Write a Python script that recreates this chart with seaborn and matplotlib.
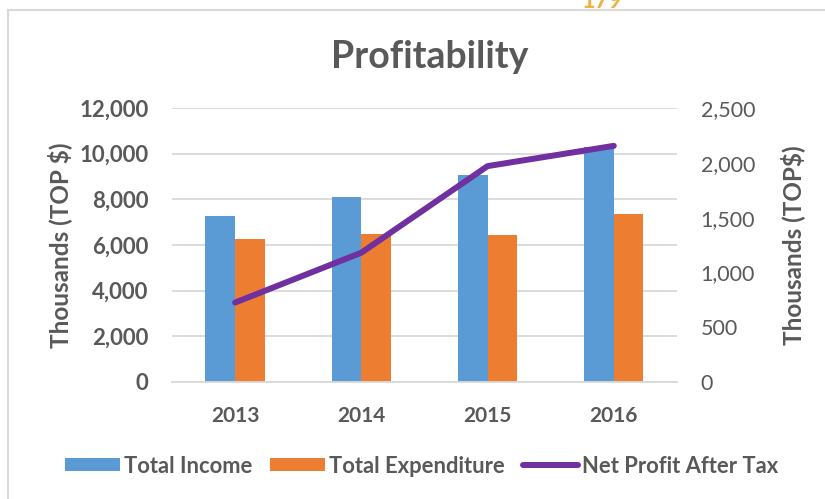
import matplotlib
matplotlib.use("Agg")
from matplotlib import pyplot as plt
from matplotlib.patches import Patch
from matplotlib.lines import Line2D
from matplotlib.ticker import FuncFormatter
import pandas as pd
import seaborn as sns
import numpy as np

# chart data
years = ["2013", "2014", "2015", "2016"]
total_income = [7250, 8100, 9050, 10300]
total_expenditure = [6280, 6500, 6430, 7350]
net_profit = [725, 1180, 1970, 2155]
series_names = ["Total Income", "Total Expenditure", "Net Profit After Tax"]
left_ticks = [0, 2000, 4000, 6000, 8000, 10000, 12000]
right_ticks = [0, 500, 1000, 1500, 2000, 2500]

BLUE = "#5B9BD5"
ORANGE = "#ED7D31"
PURPLE = "#7030A0"
TEXT = "#595959"
GRID = "#D9D9D9"

sns.set_theme(style="white")
plt.rcParams["font.family"] = ["Lato", "DejaVu Sans"]

df = pd.DataFrame({
    "year": years * 2,
    "value": total_income + total_expenditure,
    "series": [series_names[0]] * len(years) + [series_names[1]] * len(years),
})

fig = plt.figure(figsize=(8.25, 4.99), dpi=100)
ax = fig.add_axes([0.2085, 0.2345, 0.612, 0.549])

sns.barplot(data=df, x="year", y="value", hue="series", order=years,
            palette=[BLUE, ORANGE], width=0.47, saturation=1, ax=ax,
            edgecolor="none", legend=False)

ax.set_xlim(-0.5, len(years) - 0.5)
ax.set_ylim(left_ticks[0], left_ticks[-1])
ax.set_yticks(left_ticks)
ax.yaxis.set_major_formatter(FuncFormatter(lambda v, p: f"{int(v):,}"))
ax.set_axisbelow(True)
ax.grid(axis="y", color=GRID, linewidth=1.3)
ax.grid(axis="x", visible=False)
for s in ["left", "right", "top"]:
    ax.spines[s].set_visible(False)
ax.spines["bottom"].set_color(GRID)
ax.spines["bottom"].set_linewidth(1.3)
ax.tick_params(axis="y", length=0, pad=17, labelsize=16, labelcolor=TEXT)
ax.tick_params(axis="x", length=0, pad=17, labelsize=15, labelcolor=TEXT)
for lab in ax.get_yticklabels() + ax.get_xticklabels():
    lab.set_fontweight("bold")
ax.set_xlabel("")
ax.set_ylabel("Thousands (TOP $)", fontsize=17.5, fontweight="bold", color=TEXT, labelpad=5)

ax2 = ax.twinx()
sns.lineplot(x=np.arange(len(years)), y=net_profit, color=PURPLE, linewidth=4.3,
             solid_capstyle="round", ax=ax2)
ax2.set_ylim(right_ticks[0], right_ticks[-1])
ax2.set_yticks(right_ticks)
ax2.yaxis.set_major_formatter(FuncFormatter(lambda v, p: f"{int(v):,}"))
ax2.tick_params(axis="y", length=0, pad=17, labelsize=15.5, labelcolor=TEXT)
for s in ax2.spines.values():
    s.set_visible(False)
ax2.set_ylabel("Thousands (TOP$)", fontsize=17.5, fontweight="bold", color=TEXT,
               labelpad=18, rotation=90)

fig.text(0.521, 0.886, "Profitability", ha="center", va="center",
         fontsize=27, fontweight="bold", color=TEXT)

handles = [Patch(facecolor=BLUE, edgecolor="none"),
           Patch(facecolor=ORANGE, edgecolor="none"),
           Line2D([0], [0], color=PURPLE, linewidth=4.3, solid_capstyle="round")]
leg = fig.legend(handles, series_names, loc="center", bbox_to_anchor=(0.511, 0.066),
                 ncol=3, frameon=False, handlelength=2.5, handleheight=0.55,
                 handletextpad=0.2, columnspacing=0.8,
                 prop={"size": 15.8, "weight": "bold"})
for t in leg.get_texts():
    t.set_color(TEXT)

# chart border and the page number peeking above it
fig.add_artist(Line2D([8 / 825, 1], [1 - 10 / 499, 1 - 10 / 499], color=GRID, linewidth=1.5))
fig.add_artist(Line2D([8 / 825, 8 / 825], [0, 1 - 10 / 499], color=GRID, linewidth=1.5))
fig.text(0.73, 1 - 8 / 499, "179", ha="center", va="baseline", fontsize=17,
         fontweight="bold", color="#EEB240")

fig.savefig("out.png", dpi=100)
